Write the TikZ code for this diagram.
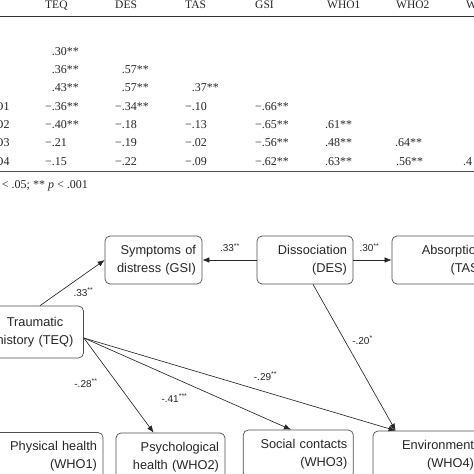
\documentclass[tikz,border=0pt]{standalone}
\usepackage{fontspec}
\setmainfont{Liberation Serif}
\newfontfamily\pathfont{Liberation Sans}
\usepackage{xcolor}
\usetikzlibrary{arrows.meta,positioning,calc}
\definecolor{PathGray}{HTML}{4D4D4D}
\definecolor{TabInk}{HTML}{262626}
\newcommand{\padminus}{\phantom{−}}

\tikzset{
  varbox/.style={draw=PathGray, rounded corners=5pt, line width=0.7pt,
    inner xsep=6pt, minimum height=48pt, align=right, text width=#1,
    text=black!85, font=\pathfont\fontsize{12.8}{18}\selectfont},
  varbox/.default=85pt,
  path arrow/.style={draw=black!85, line width=0.65pt,
    -{Latex[length=7pt,width=5.5pt]}},
  coef/.style={font=\pathfont\fontsize{10}{12}\selectfont, text=black!85,
    inner sep=0pt, anchor=base},
  cell/.style={font=\fontsize{12}{14}\selectfont, text=TabInk,
    inner sep=0pt, anchor=base west},
  colhead/.style={cell, font=\fontsize{11.5}{14}\selectfont}
}

\begin{document}
\begin{tikzpicture}[x=1pt, y=-1pt]
  \useasboundingbox (0,0) rectangle (474,474);
  \clip (0,0) rectangle (474,474);

  % correlation table
  \foreach \name/\x in {TEQ/45, DES/115, TAS/185, GSI/255, WHO1/327, WHO2/396, WHO3/466}
    \node[colhead] (h-\name) at (\x,8.3) {\name};
  \draw[line width=1.2pt, black!80] (0,16.5) -- (474,16.5);

  \foreach \x/\v [count=\c] in {45/\padminus.30**}
    \node[cell] (r1-\c) at (\x,55) {\v};
  \foreach \x/\v [count=\c] in {45/\padminus.36**, 115/\padminus.57**}
    \node[cell] (r2-\c) at (\x,73.3) {\v};
  \foreach \x/\v [count=\c] in {45/\padminus.43**, 115/\padminus.57**, 185/\padminus.37**}
    \node[cell] (r3-\c) at (\x,91.7) {\v};
  \foreach \x/\v [count=\c] in {45/−.36**, 115/−.34**, 185/−.10, 255/−.66**}
    \node[cell] (r4-\c) at (\x,110) {\v};
  \foreach \x/\v [count=\c] in {45/−.40**, 115/−.18, 185/−.13, 255/−.65**, 325/.61**}
    \node[cell] (r5-\c) at (\x,128.3) {\v};
  \foreach \x/\v [count=\c] in {45/−.21, 115/−.19, 185/−.02, 255/−.56**, 325/.48**, 395/.64**}
    \node[cell] (r6-\c) at (\x,146.7) {\v};
  \foreach \x/\v [count=\c] in {45/−.15, 115/−.22, 185/−.09, 255/−.62**, 325/.63**, 396/.56**, 463/.4}
    \node[cell] (r7-\c) at (\x,165) {\v};
  \foreach \k/\yb in {1/110, 2/128.3, 3/146.7, 4/165}
    \node[cell] (lab-\k) at (-25.2,\yb) {WHO\k};

  \draw[line width=1pt, black!70] (0,171.3) -- (474,171.3);
  \node[cell, anchor=base east] (note) at (88,188.3)
    {* \textit{p} < .05; ** \textit{p} < .001};

  % path model
  \node[varbox] (gsi) at (153.5,260) {Symptoms of\\distress (GSI)};
  \node[varbox=84pt] (des) at (305,260) {Dissociation\\(DES)};
  \node[varbox] (tas) at (440.5,260) {Absorption\\(TAS)};
  \node[varbox, align=center, minimum height=52pt] (teq) at (35,332)
    {Traumatic\\history (TEQ)};
  \node[varbox=97pt] (who1) at (48.5,456.5) {Physical health\\(WHO1)};
  \node[varbox=97pt] (who2) at (170.5,457) {Psychological\\health (WHO2)};
  \node[varbox=98pt] (who3) at (298.3,454) {Social contacts\\(WHO3)};
  \node[varbox=95pt] (who4) at (426.5,455) {Environment\\(WHO4)};

  \coordinate (teq-out) at ($(teq.east)+(0,6)$);
  \coordinate (who4-in) at ($(who4.north west)+(23,0)$);

  \draw[path arrow] ([xshift=5pt]teq.north) -- (gsi.west);
  \draw[path arrow] (des.west) -- (gsi.east);
  \draw[path arrow] (des.east) -- (tas.west);
  \draw[path arrow] ([xshift=8pt]des.south) -- (who4-in);
  \draw[path arrow] (teq-out) -- ($(who2.north west)+(38,0)$);
  \draw[path arrow] (teq-out) -- ($(who3.north west)+(48,0)$);
  \draw[path arrow] (teq-out) -- (who4-in);

  \node[coef] (c-teq-gsi) at (83.5,296) {.33\textsuperscript{**}};
  \node[coef] (c-des-gsi) at (230,251.7) {.33\textsuperscript{**}};
  \node[coef] (c-des-tas) at (369.5,251.7) {.30\textsuperscript{**}};
  \node[coef] (c-des-who4) at (362.5,344) {-.20\textsuperscript{*}};
  \node[coef] (c-teq-who2) at (86,387) {-.28\textsuperscript{**}};
  \node[coef] (c-teq-who3) at (174.5,402) {-.41\textsuperscript{***}};
  \node[coef] (c-teq-who4) at (265.5,380) {-.29\textsuperscript{**}};
\end{tikzpicture}
\end{document}
